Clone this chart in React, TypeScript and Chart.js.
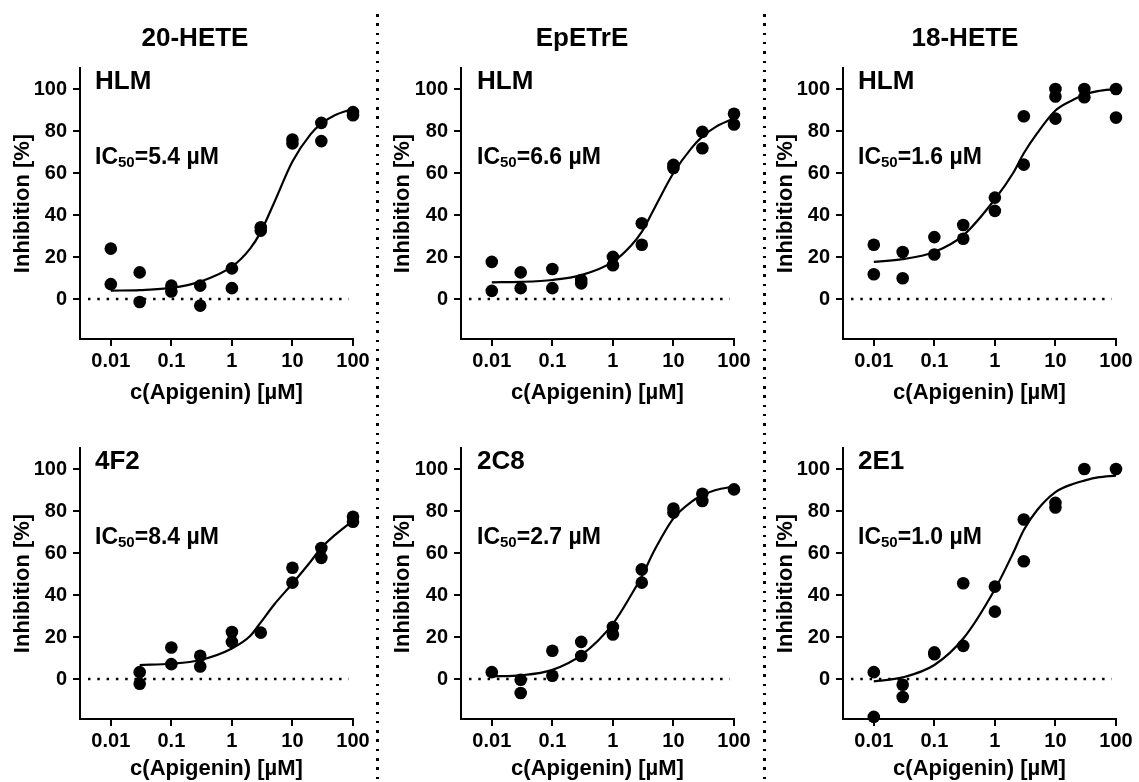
import React, { useEffect, useRef } from "react";
import { Chart, registerables } from "chart.js";

Chart.register(...registerables);

// ---------- data ----------
const xTickValues = [0.01, 0.1, 1, 10, 100];
const yTickValues = [0, 20, 40, 60, 80, 100];
const columnTitles = ["20-HETE", "EpETrE", "18-HETE"];
const panelLabels = ["HLM", "HLM", "HLM", "4F2", "2C8", "2E1"];
const ic50Values = ["5.4", "6.6", "1.6", "8.4", "2.7", "1.0"];

const concFull = [0.01, 0.01, 0.03, 0.03, 0.1, 0.1, 0.3, 0.3, 1, 1, 3, 3, 10, 10, 30, 30, 100, 100];

const hete20HlmY = [24.0, 7.1, 12.7, -1.4, 6.4, 3.6, 6.4, -3.1, 14.6, 5.2, 34.2, 32.6, 76.0, 74.1, 83.9, 75.2, 89.0, 87.5];
const epetreHlmY = [17.7, 3.9, 12.7, 5.2, 14.3, 5.2, 9.1, 7.5, 20.1, 16.1, 36.1, 25.9, 63.9, 62.4, 79.6, 71.8, 88.2, 83.1];

const hete18HlmX = [0.01, 0.01, 0.03, 0.03, 0.1, 0.1, 0.3, 0.3, 1, 1, 3, 3, 10, 10, 10, 30, 30, 100, 100];
const hete18HlmY = [25.9, 11.8, 22.4, 9.9, 29.5, 21.2, 35.3, 28.7, 48.3, 42.0, 87.0, 64.0, 100, 96.4, 85.9, 100, 96.1, 100, 86.4];

const f2X = [0.03, 0.03, 0.1, 0.1, 0.3, 0.3, 1, 1, 3, 10, 10, 30, 30, 100, 100];
const f2Y = [3.3, -2.2, 15.0, 7.1, 11.1, 6.0, 22.4, 17.7, 22.1, 53.0, 45.9, 62.4, 57.7, 77.3, 74.9];

const c8X = [0.01, 0.03, 0.03, 0.1, 0.1, 0.3, 0.3, 1, 1, 3, 3, 10, 10, 30, 30, 100];
const c8Y = [3.3, -0.3, -6.6, 13.5, 1.6, 17.7, 11.0, 24.8, 21.2, 52.2, 45.9, 81.2, 79.3, 88.2, 84.8, 90.3];

const e1X = [0.01, 0.01, 0.03, 0.03, 0.1, 0.1, 0.3, 0.3, 1, 1, 3, 3, 10, 10, 30, 100];
const e1Y = [3.3, -18.0, -2.7, -8.5, 12.7, 11.8, 45.6, 15.8, 44.0, 32.1, 76.0, 56.1, 83.9, 81.7, 100, 100];

// fitted curves
const curveX = [0.01, 0.03, 0.1, 0.3, 1, 2, 3, 5, 10, 20, 30, 50, 100];
const curveX4F2 = [0.03, 0.1, 0.3, 1, 2, 3, 5, 10, 20, 30, 50, 100];
const hete20Curve = [4.0, 4.3, 5.3, 8.3, 15.4, 24.0, 32.0, 46.0, 65.5, 78.5, 83.5, 87.5, 90.6];
const epetreCurve = [8.0, 8.2, 9.1, 11.4, 17.7, 25.5, 32.0, 44.0, 60.0, 72.0, 77.3, 82.0, 86.0];
const hete18Curve = [17.7, 19.0, 22.4, 30.3, 47.5, 60.0, 69.4, 79.0, 89.8, 95.0, 97.3, 99.0, 100];
const f2Curve = [6.7, 7.3, 9.1, 14.6, 20.5, 27.0, 35.5, 45.5, 56.0, 62.5, 68.5, 75.5];
const c8Curve = [1.3, 1.8, 4.4, 11.4, 26.3, 40.0, 49.0, 62.0, 76.5, 84.5, 87.5, 90.0, 91.7];
const e1Curve = [-1.1, 0.8, 6.7, 19.3, 42.8, 60.0, 71.0, 80.5, 89.0, 93.0, 94.5, 96.0, 96.9];

const zeroLineX = [0.0042, 85];
const zeroLineY = [0, 0];

const xMin = 0.0031;
const xMax = 100;
const yMin = -19;
const yMax = 110;

// ---------- layout ----------
const FONT = "'Liberation Sans', Arial, Helvetica, sans-serif";

type PanelDef = {
  px: number[];
  py: number[];
  cx: number[];
  cy: number[];
  left: number;
  top: number;
  width: number;
  height: number;
  yWidth: number;
  xHeight: number;
  padRight: number;
  titlePadBottom: number;
};

const colLefts = [0, 380, 763];
const colWidths = [376, 378, 376];
const colYWidth = [80, 81, 80];
const colPadRight = [23, 24, 23];
const rowTops = [50, 430];
const rowHeights = [360, 352];
const rowXHeights = [71, 63];
const rowTitlePad = [4, 0];

const seriesPX = [concFull, concFull, hete18HlmX, f2X, c8X, e1X];
const seriesPY = [hete20HlmY, epetreHlmY, hete18HlmY, f2Y, c8Y, e1Y];
const seriesCX = [curveX, curveX, curveX, curveX4F2, curveX, curveX];
const seriesCY = [hete20Curve, epetreCurve, hete18Curve, f2Curve, c8Curve, e1Curve];

const panels: PanelDef[] = [0, 1, 2, 3, 4, 5].map((i) => {
  const c = i % 3;
  const r = Math.floor(i / 3);
  return {
    px: seriesPX[i],
    py: seriesPY[i],
    cx: seriesCX[i],
    cy: seriesCY[i],
    left: colLefts[c],
    top: rowTops[r],
    width: colWidths[c],
    height: rowHeights[r],
    yWidth: colYWidth[c],
    xHeight: rowXHeights[r],
    padRight: colPadRight[c],
    titlePadBottom: rowTitlePad[r],
  };
});

function Panel({ p }: { p: PanelDef }) {
  const ref = useRef<HTMLCanvasElement | null>(null);
  useEffect(() => {
    if (!ref.current) return;
    const tickFont = { family: FONT, size: 20, weight: "bold" as const };
    const titleFont = { family: FONT, size: 22, weight: "bold" as const };
    const chart = new Chart(ref.current, {
      type: "scatter",
      data: {
        datasets: [
          {
            type: "line",
            data: zeroLineX.map((x, i) => ({ x, y: zeroLineY[i] })),
            borderColor: "#000",
            borderWidth: 2.5,
            borderDash: [2.5, 6.8],
            pointRadius: 0,
            fill: false,
          },
          {
            type: "line",
            data: p.cx.map((x, i) => ({ x, y: p.cy[i] })),
            borderColor: "#000",
            borderWidth: 2.2,
            pointRadius: 0,
            fill: false,
            cubicInterpolationMode: "monotone",
          },
          {
            type: "scatter",
            data: p.px.map((x, i) => ({ x, y: p.py[i] })),
            pointRadius: 6.3,
            pointBackgroundColor: "#000",
            pointBorderWidth: 0,
            backgroundColor: "#000",
            borderColor: "#000",
            clip: false,
          } as any,
        ],
      },
      options: {
        animation: false,
        responsive: false,
        maintainAspectRatio: false,
        events: [],
        layout: { padding: { top: 13, right: p.padRight, left: 0, bottom: 0 } },
        plugins: { legend: { display: false }, tooltip: { enabled: false } },
        scales: {
          x: {
            type: "logarithmic",
            min: xMin,
            max: xMax,
            afterBuildTicks: (s: any) => {
              s.ticks = xTickValues.map((v) => ({ value: v }));
            },
            afterFit: (s: any) => {
              s.height = p.xHeight;
            },
            ticks: {
              font: tickFont,
              color: "#000",
              padding: 3,
              maxRotation: 0,
              autoSkip: false,
              callback: (v: any) => String(v),
            },
            grid: { drawOnChartArea: false, color: "#000", lineWidth: 2, tickLength: 7 },
            border: { color: "#000", width: 2 },
            title: {
              display: true,
              text: "c(Apigenin) [µM]",
              font: titleFont,
              color: "#000",
              padding: { top: 0, bottom: p.titlePadBottom },
            },
          },
          y: {
            type: "linear",
            min: yMin,
            max: yMax,
            afterBuildTicks: (s: any) => {
              s.ticks = yTickValues.map((v) => ({ value: v }));
            },
            afterFit: (s: any) => {
              s.width = p.yWidth;
            },
            ticks: { font: tickFont, color: "#000", padding: 6 },
            grid: { drawOnChartArea: false, color: "#000", lineWidth: 2, tickLength: 7 },
            border: { color: "#000", width: 2 },
            title: {
              display: true,
              text: "Inhibition [%]",
              font: titleFont,
              color: "#000",
              padding: { top: 10, bottom: 0 },
            },
          },
        },
      },
    } as any);
    return () => chart.destroy();
  }, [p]);
  return (
    <canvas
      ref={ref}
      width={p.width}
      height={p.height}
      style={{ position: "absolute", left: p.left, top: p.top, width: p.width, height: p.height }}
    />
  );
}

const colTitleCenters = [195, 582, 965];
const labelLefts = [95, 477, 858];
const labelRowY = [80, 460];
const icRowY = [156, 536];
const separatorXs = [376, 763];

export default function App() {
  const textBase: React.CSSProperties = {
    position: "absolute",
    fontFamily: FONT,
    fontWeight: "bold",
    color: "#000",
    whiteSpace: "nowrap",
    lineHeight: 1,
  };
  return (
    <div
      style={{
        position: "absolute",
        left: 0,
        top: 0,
        width: 1139,
        height: 782,
        overflow: "hidden",
        background: "#fff",
      }}
    >
      {panels.map((p, i) => (
        <Panel key={i} p={p} />
      ))}
      {columnTitles.map((t, i) => (
        <div
          key={"t" + i}
          style={{ ...textBase, fontSize: 26, left: colTitleCenters[i], top: 37, transform: "translate(-50%, -50%)" }}
        >
          {t}
        </div>
      ))}
      {panelLabels.map((t, i) => (
        <div
          key={"l" + i}
          style={{
            ...textBase,
            fontSize: 26,
            left: labelLefts[i % 3],
            top: labelRowY[Math.floor(i / 3)],
            transform: "translateY(-50%)",
          }}
        >
          {t}
        </div>
      ))}
      {ic50Values.map((v, i) => (
        <div
          key={"ic" + i}
          style={{
            ...textBase,
            fontSize: 23,
            left: labelLefts[i % 3],
            top: icRowY[Math.floor(i / 3)],
            transform: "translateY(-50%)",
          }}
        >
          IC<span style={{ fontSize: 15, position: "relative", top: 3 }}>50</span>={v} µM
        </div>
      ))}
      {separatorXs.map((x, i) => (
        <div
          key={"s" + i}
          style={{
            position: "absolute",
            left: x,
            top: 14,
            width: 2.5,
            height: 770,
            backgroundImage: "repeating-linear-gradient(to bottom, #000 0px, #000 2.5px, transparent 2.5px, transparent 9.3px)",
          }}
        />
      ))}
    </div>
  );
}
